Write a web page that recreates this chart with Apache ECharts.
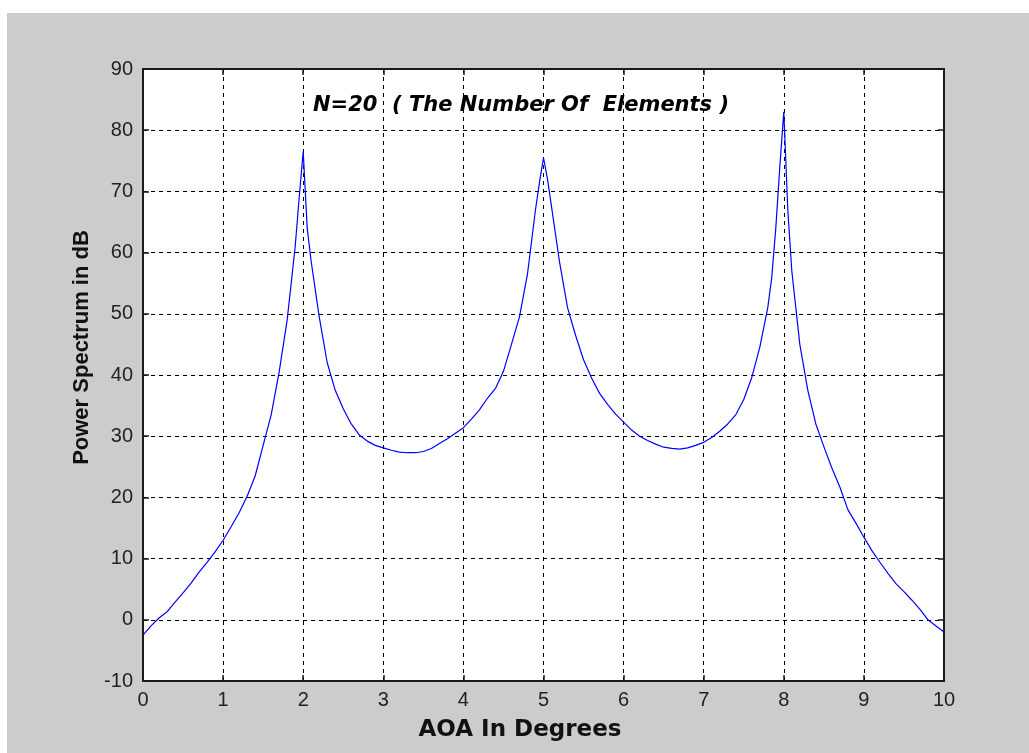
<!DOCTYPE html>
<html>
<head>
<meta charset="utf-8">
<script src="https://cdn.jsdelivr.net/npm/echarts@6/dist/echarts.min.js"></script>
<style>
  html, body { margin: 0; padding: 0; background: #ffffff; }
  #wrap { position: absolute; left: 7px; top: 13px; width: 1022px; height: 740px; background: #cccccc; }
  #chart { position: absolute; left: -7px; top: -13px; width: 1029px; height: 753px; }
</style>
</head>
<body>
<div id="wrap"><div id="chart"></div></div>
<script>
// ---- data ----
const aoaDegrees = [
  0.0, 0.1, 0.2, 0.3, 0.4, 0.5, 0.6, 0.7, 0.8, 0.9,
  1.0, 1.1, 1.2, 1.3, 1.4, 1.5, 1.6, 1.7, 1.8, 1.9, 1.95,
  2.0, 2.05, 2.1, 2.2, 2.3, 2.4, 2.5, 2.6, 2.7, 2.8, 2.9,
  3.0, 3.1, 3.2, 3.3, 3.4, 3.5, 3.6, 3.7, 3.8, 3.9,
  4.0, 4.1, 4.2, 4.3, 4.4, 4.5, 4.6, 4.7, 4.8, 4.9, 4.95,
  5.0, 5.05, 5.1, 5.2, 5.3, 5.4, 5.5, 5.6, 5.7, 5.8, 5.9,
  6.0, 6.1, 6.2, 6.3, 6.4, 6.5, 6.6, 6.7, 6.8, 6.9,
  7.0, 7.1, 7.2, 7.3, 7.4, 7.5, 7.6, 7.7, 7.8, 7.85, 7.9, 7.95,
  8.0, 8.05, 8.1, 8.2, 8.3, 8.4, 8.5, 8.6, 8.7, 8.8, 8.9,
  9.0, 9.1, 9.2, 9.3, 9.4, 9.5, 9.6, 9.7, 9.8, 9.9, 10.0
];
const powerDb = [
  -2.5, -1.0, 0.3, 1.3, 2.9, 4.4, 6.0, 7.8, 9.4, 11.1,
  13.0, 15.2, 17.5, 20.2, 23.5, 28.5, 33.5, 40.5, 49.0, 61.0, 69.0,
  76.5, 64.0, 58.5, 49.5, 42.0, 37.5, 34.5, 32.0, 30.2, 29.2, 28.5,
  28.1, 27.7, 27.4, 27.3, 27.3, 27.5, 28.0, 28.8, 29.6, 30.5,
  31.4, 32.8, 34.3, 36.2, 37.8, 40.6, 45.0, 49.5, 56.5, 67.0, 71.5,
  75.5, 72.0, 67.5, 58.5, 51.0, 46.5, 42.5, 39.5, 37.0, 35.2, 33.6,
  32.3, 31.0, 30.0, 29.3, 28.7, 28.2, 28.0, 27.9, 28.1, 28.5,
  29.0, 29.8, 30.8, 32.0, 33.5, 36.0, 39.6, 44.5, 51.0, 56.0, 64.0, 74.0,
  83.0, 67.0, 57.0, 45.0, 37.5, 32.0, 28.3, 24.8, 21.7, 18.0, 15.8,
  13.5, 11.3, 9.4, 7.6, 5.9, 4.6, 3.2, 1.7, 0.0, -1.0, -2.0
];
const xTicks = [0, 1, 2, 3, 4, 5, 6, 7, 8, 9, 10];
const yTicks = [-10, 0, 10, 20, 30, 40, 50, 60, 70, 80, 90];
const titleText = 'N=20  ( The Number Of  Elements )';
const xLabel = 'AOA In Degrees';
const yLabel = 'Power Spectrum in dB';

const points = aoaDegrees.map((x, i) => [x, powerDb[i]]);

const chart = echarts.init(document.getElementById('chart'), null, { renderer: 'canvas' });

const gridLine = { show: true, lineStyle: { color: '#000000', width: 1, type: [4, 4] } };
const axisLine = { show: true, onZero: false, lineStyle: { color: '#1a1a1a', width: 2 } };
const tickFont = { color: '#222222', fontSize: 20, fontFamily: 'Liberation Sans, Arial, sans-serif' };

chart.setOption({
  animation: false,
  backgroundColor: 'transparent',
  grid: {
    left: 143, top: 69, right: 85, bottom: 72,
    show: true, backgroundColor: '#ffffff', borderColor: '#1a1a1a', borderWidth: 2
  },
  graphic: [{
    type: 'text', left: 313, top: 95, z: 10,
    style: {
      text: titleText, fill: '#000000',
      font: 'italic bold 21px "DejaVu Sans", sans-serif'
    }
  }],
  xAxis: [{
    type: 'value', min: xTicks[0], max: xTicks[xTicks.length - 1], interval: 1,
    position: 'bottom',
    axisLine: axisLine,
    axisTick: { show: true, inside: true, length: 6, lineStyle: { color: '#1a1a1a', width: 1.5 } },
    axisLabel: Object.assign({ margin: 9 }, tickFont),
    splitLine: gridLine,
    name: xLabel, nameLocation: 'middle', nameGap: 38,
    nameTextStyle: { fontSize: 23, fontWeight: 'bold', color: '#111111', fontFamily: 'DejaVu Sans, sans-serif', padding: [0, 47, 0, 0] }
  }, {
    type: 'value', min: xTicks[0], max: xTicks[xTicks.length - 1], interval: 1,
    position: 'top',
    axisLine: axisLine,
    axisTick: { show: true, inside: true, length: 6, lineStyle: { color: '#1a1a1a', width: 1.5 } },
    axisLabel: { show: false }, splitLine: { show: false }
  }],
  yAxis: [{
    type: 'value', min: yTicks[0], max: yTicks[yTicks.length - 1], interval: 10,
    position: 'left',
    axisLine: axisLine,
    axisTick: { show: true, inside: true, length: 6, lineStyle: { color: '#1a1a1a', width: 1.5 } },
    axisLabel: Object.assign({ margin: 10 }, tickFont),
    splitLine: gridLine,
    name: yLabel, nameLocation: 'middle', nameGap: 46,
    nameTextStyle: { fontSize: 22, fontWeight: 'bold', color: '#111111', fontFamily: 'Liberation Sans, Arial, sans-serif', padding: [0, 0, 0, 55] }
  }, {
    type: 'value', min: yTicks[0], max: yTicks[yTicks.length - 1], interval: 10,
    position: 'right',
    axisLine: axisLine,
    axisTick: { show: true, inside: true, length: 6, lineStyle: { color: '#1a1a1a', width: 1.5 } },
    axisLabel: { show: false }, splitLine: { show: false }
  }],
  series: [{
    type: 'line', xAxisIndex: 0, yAxisIndex: 0,
    data: points, showSymbol: false, smooth: false,
    lineStyle: { color: '#0000ff', width: 1.2 },
    z: 5
  }]
});
</script>
</body>
</html>
